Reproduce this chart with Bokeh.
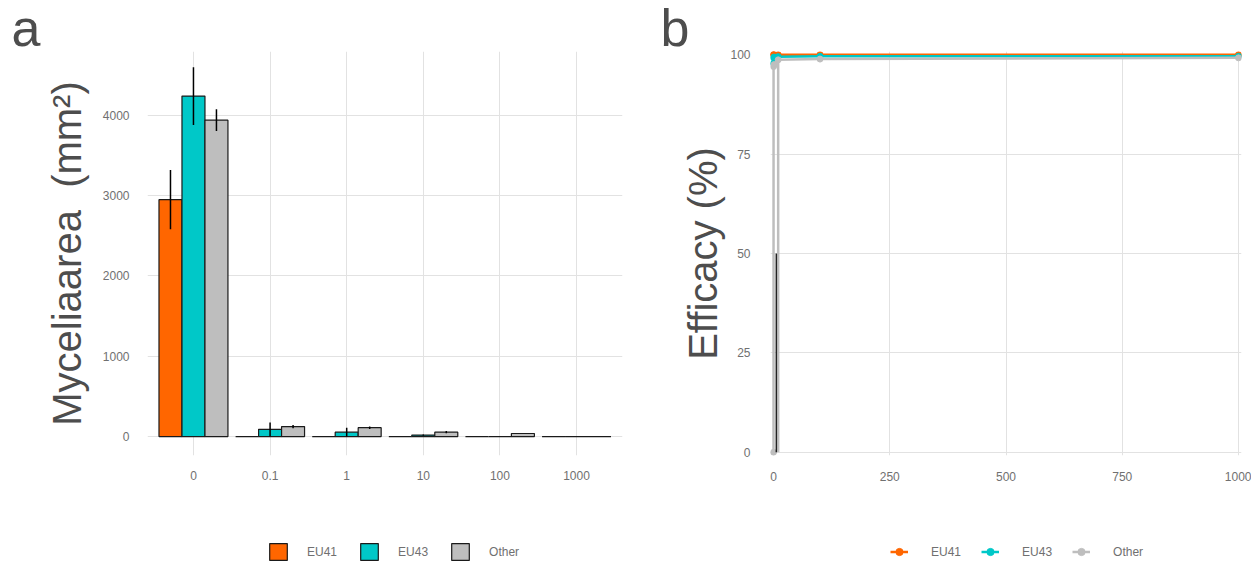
from bokeh.plotting import figure
from bokeh.models import (FactorRange, Range1d, FixedTicker, Legend, LegendItem,
                          Label, ColumnDataSource)
from bokeh.transform import dodge
from bokeh.layouts import row, column
from bokeh.embed import file_html
from bokeh.resources import INLINE

# ---------------- data ----------------
doses = ["0", "0.1", "1", "10", "100", "1000"]
groups = ["EU41", "EU43", "Other"]
colors = ["#FF6600", "#00C8C8", "#BEBEBE"]

area_eu41 = [2950, 0, 0, 0, 0, 0]
area_eu43 = [4240, 90, 55, 18, 0, 0]
area_other = [3940, 124, 110, 55, 38, 0]
sd_eu41 = [370, 0, 0, 0, 0, 0]
sd_eu43 = [360, 85, 55, 8, 0, 0]
sd_other = [135, 20, 15, 15, 0, 0]

dose_num = [0, 0.1, 1, 10, 100, 1000]
eff_eu41 = [100, 100, 100, 100, 100, 100]
eff_eu43 = [97.8, 99.2, 99.4, 99.5, 99.6, 99.6]
eff_other = [0, 97.0, 97.5, 98.7, 98.9, 99.2]
other_lo = [0, 97.0, 97.5, 0, 98.9, 99.2]
other_hi = [0, 97.0, 97.5, 98.7, 98.9, 99.2]
black_err_x = [6]
black_err_lo = [0]
black_err_hi = [50]

panel_tags = ["a", "b"]

FONT = "Liberation Sans"
TICK_COLOR = "#707070"
LABEL_COLOR = "#4d4d4d"
GRID = "#e2e2e2"

W_A, W_B = 636, 615
H_HEAD, H_MAIN, H_LEG = 48, 442, 72


def style(p):
    p.outline_line_color = None
    p.axis.axis_line_color = None
    p.axis.major_tick_line_color = None
    p.axis.minor_tick_line_color = None
    p.axis.major_label_text_font = FONT
    p.axis.major_label_text_font_size = "12px"
    p.axis.major_label_text_color = TICK_COLOR
    p.yaxis.major_tick_out = 0
    p.yaxis.major_tick_in = 0
    p.yaxis.minor_tick_out = 0
    p.xgrid.grid_line_color = GRID
    p.ygrid.grid_line_color = GRID
    p.yaxis.axis_label_text_font = FONT
    p.yaxis.axis_label_text_font_size = "40px"
    p.yaxis.axis_label_text_font_style = "normal"
    p.yaxis.axis_label_text_color = LABEL_COLOR


def blank(width, height):
    f = figure(width=width, height=height, x_range=Range1d(0, width),
               y_range=Range1d(0, height), x_axis_type=None, y_axis_type=None,
               output_backend="svg", toolbar_location=None, min_border=0)
    f.outline_line_color = None
    f.grid.visible = False
    return f


# ---------------- header with panel tags ----------------
head = blank(W_A + W_B, H_HEAD)
for tag, xpos in zip(panel_tags, [11, 660]):
    head.add_layout(Label(x=xpos, y=21, text=tag, text_baseline="alphabetic",
                          text_font=FONT, text_font_size="52px",
                          text_color=LABEL_COLOR))

# ---------------- panel a ----------------
p1 = figure(x_range=FactorRange(factors=doses, range_padding=0.2 / 6),
            y_range=Range1d(-236, 4795), width=W_A, height=H_MAIN,
            output_backend="svg", toolbar_location=None,
            min_border_left=147, min_border_right=14,
            min_border_top=3, min_border_bottom=34)
style(p1)
p1.yaxis.ticker = FixedTicker(ticks=[0, 1000, 2000, 3000, 4000])
p1.xaxis.major_label_standoff = 9
p1.yaxis.major_label_standoff = 18
p1.yaxis.axis_label = "Myceliaarea\u00a0 (mm\u00b2)"
p1.yaxis.axis_label_standoff = 11

offsets = [-0.3, 0.0, 0.3]
area_vals = [area_eu41, area_eu43, area_other]
sd_vals = [sd_eu41, sd_eu43, sd_other]
for c, off, vals in zip(colors, offsets, area_vals):
    src = ColumnDataSource(dict(dose=doses, top=vals))
    p1.vbar(x=dodge("dose", off, range=p1.x_range), top="top", bottom=0,
            width=0.3, fill_color=c, line_color="#1a1a1a", line_width=1.2,
            source=src)
for off, vals, sds in zip(offsets, area_vals, sd_vals):
    src = ColumnDataSource(dict(dose=doses,
                                lo=[v - s for v, s in zip(vals, sds)],
                                hi=[v + s for v, s in zip(vals, sds)]))
    p1.segment(x0=dodge("dose", off, range=p1.x_range), y0="lo",
               x1=dodge("dose", off, range=p1.x_range), y1="hi",
               line_color="black", line_width=1.5, source=src)

# ---------------- panel b ----------------
p2 = figure(x_range=Range1d(-6.5, 1006.5), y_range=Range1d(-0.8, 100.8),
            width=W_B, height=H_MAIN, output_backend="svg", toolbar_location=None,
            min_border_left=134, min_border_right=10,
            min_border_top=2, min_border_bottom=35)
style(p2)
p2.xaxis.major_tick_out = 0
p2.xaxis.major_tick_in = 0
p2.xaxis.minor_tick_out = 0
p2.xaxis.ticker = FixedTicker(ticks=[0, 250, 500, 750, 1000])
p2.yaxis.ticker = FixedTicker(ticks=[0, 25, 50, 75, 100])
p2.xaxis.major_label_standoff = 16
p2.yaxis.major_label_standoff = 20
p2.yaxis.axis_label = "Efficacy (%)"
p2.yaxis.axis_label_standoff = 2

eff_vals = [eff_eu41, eff_eu43, eff_other]
for c, vals in zip(colors, eff_vals):
    src = ColumnDataSource(dict(x=dose_num, y=vals))
    p2.line("x", "y", line_color=c, line_width=2.5, source=src)
    p2.scatter("x", "y", size=6, fill_color=c, line_color=c, source=src)

p2.segment(x0=dose_num, y0=other_lo, x1=dose_num, y1=other_hi,
           line_color="#BEBEBE", line_width=2.5)
p2.segment(x0=black_err_x, y0=black_err_lo, x1=black_err_x, y1=black_err_hi,
           line_color="#222222", line_width=1.5)

# ---------------- legends row (hidden key renderers) ----------------
leg = blank(W_A + W_B, H_LEG)
items_a, items_b = [], []
for g, c, avals, evals in zip(groups, colors, area_vals, eff_vals):
    r = leg.vbar(x=dose_num, top=avals, width=1, fill_color=c,
                 line_color="#1a1a1a", line_width=1.2, visible=False)
    items_a.append(LegendItem(label=g, renderers=[r]))
    ln = leg.line(dose_num, evals, line_color=c, line_width=2.5, visible=False)
    sc = leg.scatter(dose_num, evals, size=6, fill_color=c, line_color=c,
                     visible=False)
    items_b.append(LegendItem(label=g, renderers=[ln, sc]))


def make_legend(items, loc, glyph_w, standoff, spacing):
    return Legend(items=items, orientation="horizontal", location=loc,
                  glyph_width=glyph_w, glyph_height=21, label_standoff=standoff,
                  spacing=spacing, padding=0, margin=0, border_line_color=None,
                  background_fill_alpha=0, inactive_fill_alpha=0,
                  label_text_font=FONT, label_text_font_size="12px",
                  label_text_color=TICK_COLOR)


leg.add_layout(make_legend(items_a, (267, 0), 22, 18, 21))
leg.add_layout(make_legend(items_b, (890, 0), 18, 23, 20))

layout = column(head, row(p1, p2), leg)
open("out.html", "w").write(file_html(layout, INLINE))
